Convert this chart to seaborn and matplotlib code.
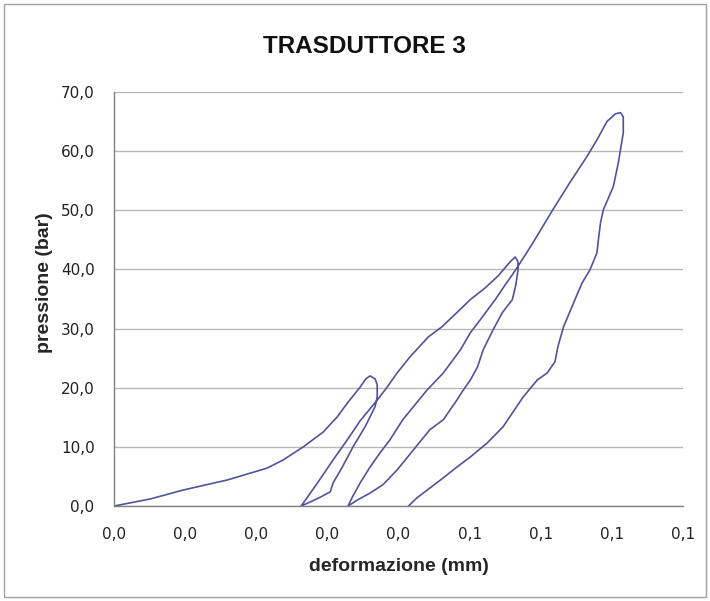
import numpy as np
import pandas as pd
import seaborn as sns
import matplotlib.pyplot as plt
from matplotlib.patches import Rectangle

# ---- data (deformazione mm, pressione bar) ----
# first loading up to ~22 bar
load1_x = [0.0, 0.0051, 0.0097, 0.0159, 0.0215, 0.0238, 0.0266, 0.0294, 0.0314,
           0.0328, 0.0346, 0.0354, 0.0360]
load1_y = [0.0, 1.2, 2.7, 4.4, 6.4, 7.8, 10.0, 12.5, 15.1, 17.4, 20.1, 21.5, 22.0]
# first unloading
unload1_x = [0.0367, 0.0370, 0.0370, 0.0367, 0.0353, 0.0336, 0.0321, 0.0308,
             0.0304, 0.0290, 0.0276, 0.0263]
unload1_y = [21.5, 20.5, 18.4, 16.8, 13.4, 10.0, 6.6, 3.9, 2.4, 1.5, 0.7, 0.0]
# second loading up to ~42 bar
load2_x = [0.0269, 0.0286, 0.0308, 0.0328, 0.0346, 0.0370, 0.0384, 0.0398,
           0.0416, 0.0442, 0.0461, 0.0482, 0.0501, 0.0522, 0.0540, 0.0557, 0.0564]
load2_y = [1.0, 3.9, 7.8, 11.2, 14.4, 17.9, 20.1, 22.5, 25.2, 28.6, 30.3, 32.7,
           34.9, 36.9, 38.9, 41.3, 42.1]
# second unloading
unload2_x = [0.0568, 0.0568, 0.0565, 0.0560, 0.0546, 0.0533, 0.0519, 0.0511,
             0.0501, 0.0491, 0.0482, 0.0463, 0.0444, 0.0421, 0.0398, 0.0378,
             0.0360, 0.0342, 0.0329]
unload2_y = [41.3, 39.9, 37.4, 34.9, 32.7, 29.8, 26.4, 23.5, 21.3, 19.6, 17.9,
             14.6, 12.9, 9.5, 6.1, 3.6, 2.2, 1.0, 0.0]
# third loading up to ~66 bar
load3_x = [0.0335, 0.0346, 0.0360, 0.0374, 0.0388, 0.0406, 0.0421, 0.0440,
           0.0463, 0.0487, 0.0501, 0.0515, 0.0536, 0.0550, 0.0560, 0.0571,
           0.0589, 0.0617, 0.0641, 0.0665, 0.0679, 0.0693, 0.0705, 0.0712]
load3_y = [1.5, 3.9, 6.6, 9.0, 11.2, 14.6, 16.8, 19.6, 22.5, 26.4, 29.3, 31.5,
           34.9, 37.4, 39.1, 41.1, 44.5, 50.1, 54.7, 59.1, 61.9, 65.0, 66.3, 66.5]
# third unloading
unload3_x = [0.0716, 0.0716, 0.0709, 0.0702, 0.0688, 0.0684, 0.0681, 0.0679,
             0.0669, 0.0658, 0.0646, 0.0632, 0.0624, 0.0620, 0.0609, 0.0595,
             0.0575, 0.0547, 0.0525, 0.0501, 0.0480, 0.0459, 0.0426, 0.0414]
unload3_y = [65.8, 63.1, 58.0, 54.0, 50.1, 47.9, 45.0, 42.8, 39.9, 37.7, 34.3,
             30.3, 26.9, 24.4, 22.5, 21.3, 18.4, 13.4, 10.7, 8.3, 6.4, 4.4, 1.4, 0.0]

x_ticks = [0.0, 0.01, 0.02, 0.03, 0.04, 0.05, 0.06, 0.07, 0.08]
x_labels = ["0,0", "0,0", "0,0", "0,0", "0,0", "0,1", "0,1", "0,1", "0,1"]
y_ticks = [0, 10, 20, 30, 40, 50, 60, 70]
y_labels = ["0,0", "10,0", "20,0", "30,0", "40,0", "50,0", "60,0", "70,0"]

df = pd.DataFrame({
    "deformazione": load1_x + unload1_x + load2_x + unload2_x + load3_x + unload3_x,
    "pressione": load1_y + unload1_y + load2_y + unload2_y + load3_y + unload3_y,
})

sns.set_style("white")
plt.rcParams['font.family'] = ['Liberation Sans', 'DejaVu Sans']

fig = plt.figure(figsize=(7.1, 6.01), dpi=100)
ax = fig.add_axes([0.1606, 0.158, 0.8014, 0.689])

sns.lineplot(data=df, x="deformazione", y="pressione", sort=False, estimator=None,
             color="#50549a", linewidth=1.2, ax=ax)

ax.set_xlim(0, 0.08)
ax.set_ylim(0, 70)
ax.set_xticks(x_ticks)
ax.set_xticklabels(x_labels, family='DejaVu Sans', fontsize=11)
ax.set_yticks(y_ticks)
ax.set_yticklabels(y_labels, family='DejaVu Sans', fontsize=11)
ax.tick_params(axis='both', direction='out', length=4, width=1, color='#808080',
               labelcolor='#222222')
ax.tick_params(axis='x', pad=11)
ax.tick_params(axis='y', pad=10)

ax.yaxis.grid(True, color='#b8b8b8', linewidth=1)
ax.xaxis.grid(False)
for side in ['top', 'right']:
    ax.spines[side].set_visible(False)
for side in ['left', 'bottom']:
    ax.spines[side].set_color('#808080')
    ax.spines[side].set_linewidth(1)

ax.set_xlabel("deformazione (mm)", fontsize=14, fontweight='bold', va='center')
ax.xaxis.set_label_coords(0.5, -0.146)
ax.set_ylabel("pressione (bar)", fontsize=14, fontweight='bold', va='center')
ax.yaxis.set_label_coords(-0.123, 0.539)

fig.text(0.513, 0.922, "TRASDUTTORE 3", fontsize=17.5, fontweight='bold',
         ha='center', va='center', color='#111111')

fig.patches.append(Rectangle((0.006, 0.006), 0.988, 0.987, transform=fig.transFigure,
                             fill=False, edgecolor='#a0a0a0', linewidth=1))

fig.savefig("out.png", dpi=100)
